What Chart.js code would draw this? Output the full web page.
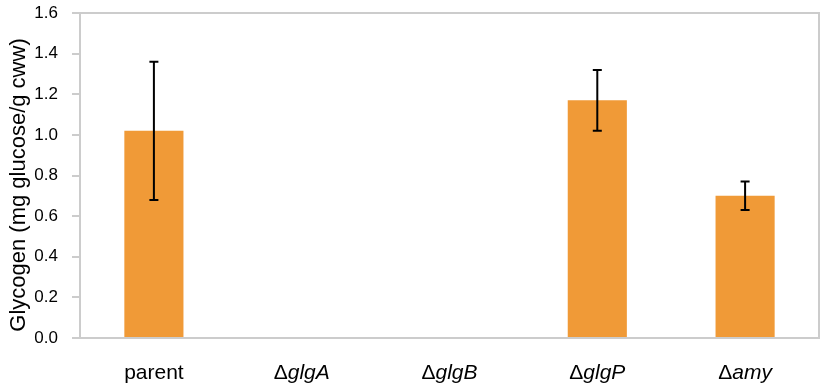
<!DOCTYPE html>
<html>
<head>
<meta charset="utf-8">
<script src="https://cdn.jsdelivr.net/npm/chart.js@4"></script>
<style>
  html, body { margin: 0; padding: 0; background: #fff; }
  #wrap { width: 824px; height: 389px; }
</style>
</head>
<body>
<div id="wrap"><canvas id="myChart" width="824" height="389"></canvas></div>
<script>
// data
const categories = ['parent', 'ΔglgA', 'ΔglgB', 'ΔglgP', 'Δamy']
const glycogen = [1.02, 0, 0, 1.17, 0.70]
const errors = [0.34, 0, 0, 0.15, 0.07]
const yTicks = [0, 0.2, 0.4, 0.6, 0.8, 1.0, 1.2, 1.4, 1.6]
const yTitle = 'Glycogen (mg glucose/g cww)'

const FONT = "'Liberation Sans', Arial, sans-serif"

// gray frame round the plot area (drawn under the bars)
const frame = {
	id: 'frame',
	beforeDatasetsDraw: chart => {
		const { ctx, chartArea } = chart
		ctx.save()
		ctx.strokeStyle = '#cccccc'
		ctx.lineWidth = 2
		ctx.strokeRect(chartArea.left, chartArea.top, chartArea.right - chartArea.left, chartArea.bottom - chartArea.top)
		ctx.restore()
	}
}

// error bars, category labels (Δ upright, gene name italic) and y title
const extras = {
	id: 'extras',
	afterDatasetsDraw: chart => {
		const ctx = chart.ctx
		const y = chart.scales.y
		const x = chart.scales.x
		const meta = chart.getDatasetMeta(0)
		ctx.save()
		ctx.strokeStyle = '#000'
		ctx.lineWidth = 2
		meta.data.forEach((bar, i) => {
			if (!errors[i]) return
			const top = y.getPixelForValue(glycogen[i] + errors[i])
			const low = y.getPixelForValue(glycogen[i] - errors[i])
			ctx.beginPath()
			ctx.moveTo(bar.x, top)
			ctx.lineTo(bar.x, low)
			ctx.moveTo(bar.x - 4.5, top)
			ctx.lineTo(bar.x + 4.5, top)
			ctx.moveTo(bar.x - 4.5, low)
			ctx.lineTo(bar.x + 4.5, low)
			ctx.stroke()
		})

		ctx.fillStyle = '#000'
		ctx.textBaseline = 'alphabetic'
		ctx.textAlign = 'left'
		categories.forEach((label, i) => {
			const cx = x.getPixelForValue(i)
			let head = '', rest = label
			if (label.startsWith('Δ')) { head = 'Δ'; rest = label.slice(1) }
			const upright = '21px ' + FONT
			const italic = 'italic 21px ' + FONT
			ctx.font = upright
			const w1 = head ? ctx.measureText(head).width : 0
			ctx.font = head ? italic : upright
			const w2 = ctx.measureText(rest).width
			let sx = cx - (w1 + w2) / 2
			if (head) {
				ctx.font = upright
				ctx.fillText(head, sx, 379)
				sx += w1
				ctx.font = italic
			}
			ctx.fillText(rest, sx, 379)
		})

		ctx.translate(19, 185)
		ctx.rotate(-Math.PI / 2)
		ctx.textAlign = 'center'
		ctx.textBaseline = 'middle'
		ctx.font = '22px ' + FONT
		ctx.fillText(yTitle, 0, 0)
		ctx.restore()
	}
}

const myChart = new Chart(document.querySelector('#myChart').getContext('2d'), {
	type: 'bar',
	data: {
		labels: categories,
		datasets: [
			{
				data: glycogen,
				backgroundColor: '#F09A37',
				borderWidth: 0,
				categoryPercentage: 1,
				barPercentage: 0.4
			}
		]
	},
	options: {
		responsive: false,
		animation: false,
		layout: { padding: { top: 13, right: 5, left: 0, bottom: 0 } },
		plugins: { legend: { display: false }, tooltip: { enabled: false } },
		scales: {
			x: {
				grid: { display: false },
				border: { display: false },
				ticks: { display: false },
				afterFit: scale => {
					scale.height = 51
					scale.paddingLeft = 0
					scale.paddingRight = 0
				}
			},
			y: {
				min: 0,
				max: 1.6,
				afterBuildTicks: scale => { scale.ticks = yTicks.map(v => ({ value: v })) },
				border: { display: false },
				grid: { drawOnChartArea: false, drawTicks: true, tickLength: 8, color: '#cccccc', lineWidth: 2 },
				ticks: {
					padding: 14,
					color: '#000',
					font: { family: FONT, size: 17 },
					callback: v => v.toFixed(1)
				},
				afterFit: scale => {
					scale.width = 80
					scale.paddingTop = 0
					scale.paddingBottom = 0
				}
			}
		}
	},
	plugins: [frame, extras]
})
</script>
</body>
</html>
